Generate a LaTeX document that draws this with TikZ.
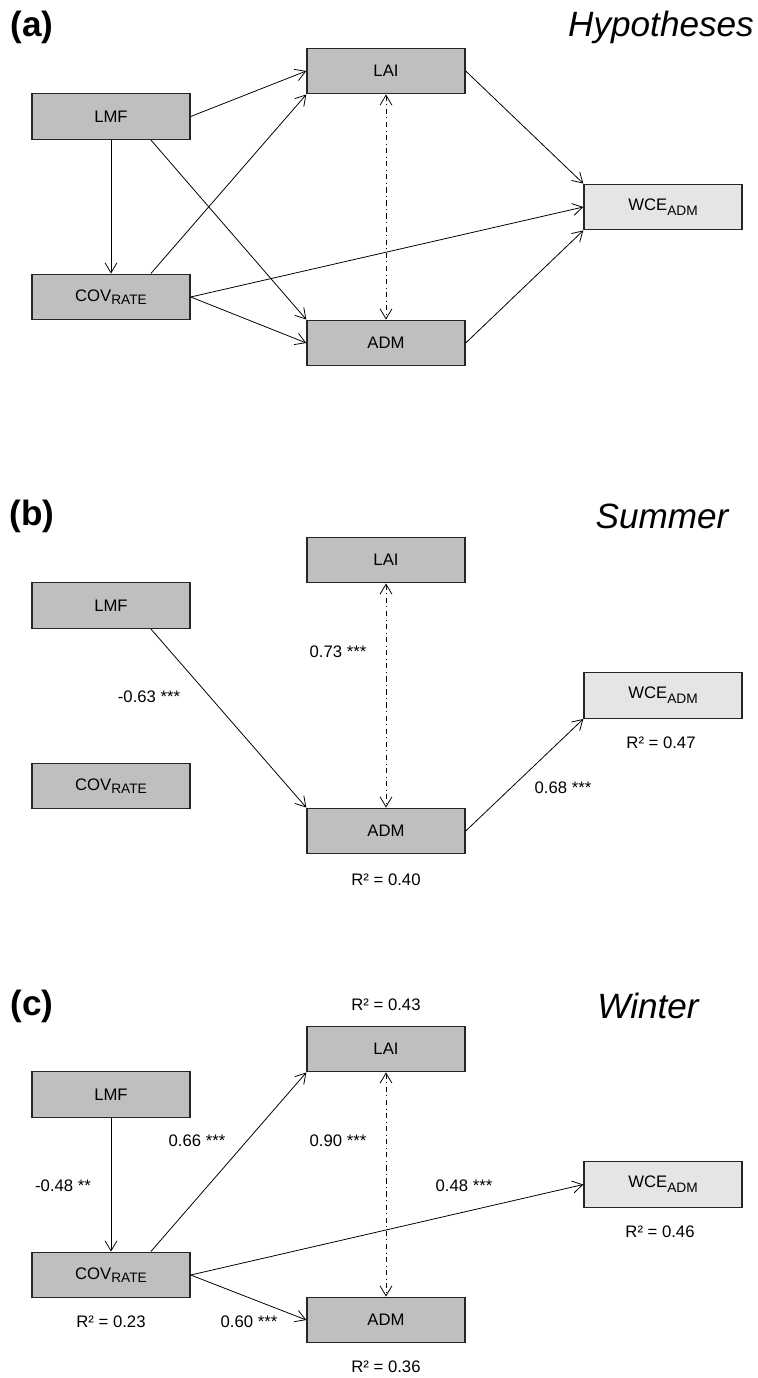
\documentclass[tikz,border=0pt]{standalone}
\usepackage{fontspec}
\setmainfont{Liberation Sans}
\usetikzlibrary{calc,arrows.meta}
\newcommand{\lowtxt}[2][0.3ex]{\raisebox{-#1}{\fontsize{7.8}{9}\selectfont #2}}
\tikzset{
  var/.style={draw=black!85, line width=0.8pt, fill=black!25, minimum width=3.16cm, minimum height=0.91cm, inner sep=0pt, font=\fontsize{9.5}{11}\selectfont},
  resp/.style={var, fill=black!10},
  effect/.style={line width=0.45pt, -{Straight Barb[length=2mm,width=2.4mm]}},
  corr/.style={line width=0.45pt, dash dot, {Straight Barb[length=2mm,width=2.4mm]}-{Straight Barb[length=2mm,width=2.4mm]}},
  lbl/.style={font=\fontsize{9.5}{11}\selectfont},
  tag/.style={font=\fontsize{20}{24}\selectfont\bfseries},
  ttl/.style={font=\fontsize{20}{24}\selectfont\itshape}
}
\begin{document}
\begin{tikzpicture}[x=0.02cm, y=-0.02cm]
			\useasboundingbox (0,0) rectangle (757,1378);
			%%%%% (a) HYPOTHESES %%%%%
			
			\node[tag] (taga) at (32,27) {(a)};
			\node[ttl] (ttla) at (661,27) {Hypotheses};
			
			\node[var] (laia) at (386,71) {LAI};
			\node[var] (lmfa) at (111,116.5) {LMF};
			\node[var] (cova) at (111,297) {COV\lowtxt{RATE}};
			\node[var] (adma) at (386,343) {ADM};
			\node[resp] (wcea) at (663,207) {WCE\lowtxt[0.6ex]{ADM}};
			
			\draw[effect] (lmfa.east) -- (laia.west);
			\draw[effect] (lmfa.south) -- (cova.north);
			\draw[effect] ($(lmfa.south)!0.5!(lmfa.south east)$) -- (adma.north west);
			\draw[effect] ($(cova.north)!0.5!(cova.north east)$) -- (laia.south west);
			\draw[effect] (cova.east) -- (adma.west);
			\draw[effect] (cova.east) -- (wcea.west);
			\draw[effect] (laia.east) -- (wcea.north west);
			\draw[effect] (adma.east) -- (wcea.south west);
			\draw[corr] (laia.south) -- (adma.north);
			
			%%%%% (b) SUMMER %%%%%
			
			\node[tag] (tagb) at (32,516) {(b)};
			\node[ttl] (ttlb) at (662,516) {Summer};
			
			\node[var] (laib) at (386,560) {LAI};
			\node[var] (lmfb) at (111,605.5) {LMF};
			\node[var] (covb) at (111,786) {COV\lowtxt{RATE}};
			\node[var] (admb) at (386,831) {ADM};
			\node[resp] (wceb) at (663,695.5) {WCE\lowtxt[0.6ex]{ADM}};
			
			\draw[effect] ($(lmfb.south)!0.5!(lmfb.south east)$) -- (admb.north west);
			\draw[effect] (admb.east) -- (wceb.south west);
			\draw[corr] (laib.south) -- (admb.north);
			
			\node[lbl] (lb1) at (149,697) {-0.63 ***};
			\node[lbl] (lb2) at (338,652) {0.73 ***};
			\node[lbl] (lb3) at (563,788) {0.68 ***};
			\node[lbl] (lb4) at (661,743) {R² = 0.47};
			\node[lbl] (lb5) at (386,880) {R² = 0.40};
			
			%%%%% (c) WINTER %%%%%
			
			\node[tag] (tagc) at (32,1006) {(c)};
			\node[ttl] (ttlc) at (648,1006) {Winter};
			
			\node[var] (laic) at (386,1049) {LAI};
			\node[var] (lmfc) at (111,1094.5) {LMF};
			\node[var] (covc) at (111,1275) {COV\lowtxt{RATE}};
			\node[var] (admc) at (386,1320) {ADM};
			\node[resp] (wcec) at (663,1184.5) {WCE\lowtxt[0.6ex]{ADM}};
			
			\draw[effect] (lmfc.south) -- (covc.north);
			\draw[effect] ($(covc.north)!0.5!(covc.north east)$) -- (laic.south west);
			\draw[effect] (covc.east) -- (admc.west);
			\draw[effect] (covc.east) -- (wcec.west);
			\draw[corr] (laic.south) -- (admc.north);
			
			\node[lbl] (lc1) at (386,1005) {R² = 0.43};
			\node[lbl] (lc2) at (197,1141) {0.66 ***};
			\node[lbl] (lc3) at (338,1141) {0.90 ***};
			\node[lbl] (lc4) at (63,1186) {-0.48 **};
			\node[lbl] (lc5) at (464,1186) {0.48 ***};
			\node[lbl] (lc6) at (660,1232) {R² = 0.46};
			\node[lbl] (lc7) at (111,1322) {R² = 0.23};
			\node[lbl] (lc8) at (249,1322) {0.60 ***};
			\node[lbl] (lc9) at (386,1367) {R² = 0.36};
			
			%%%%% END %%%%%
\end{tikzpicture}
\end{document}
